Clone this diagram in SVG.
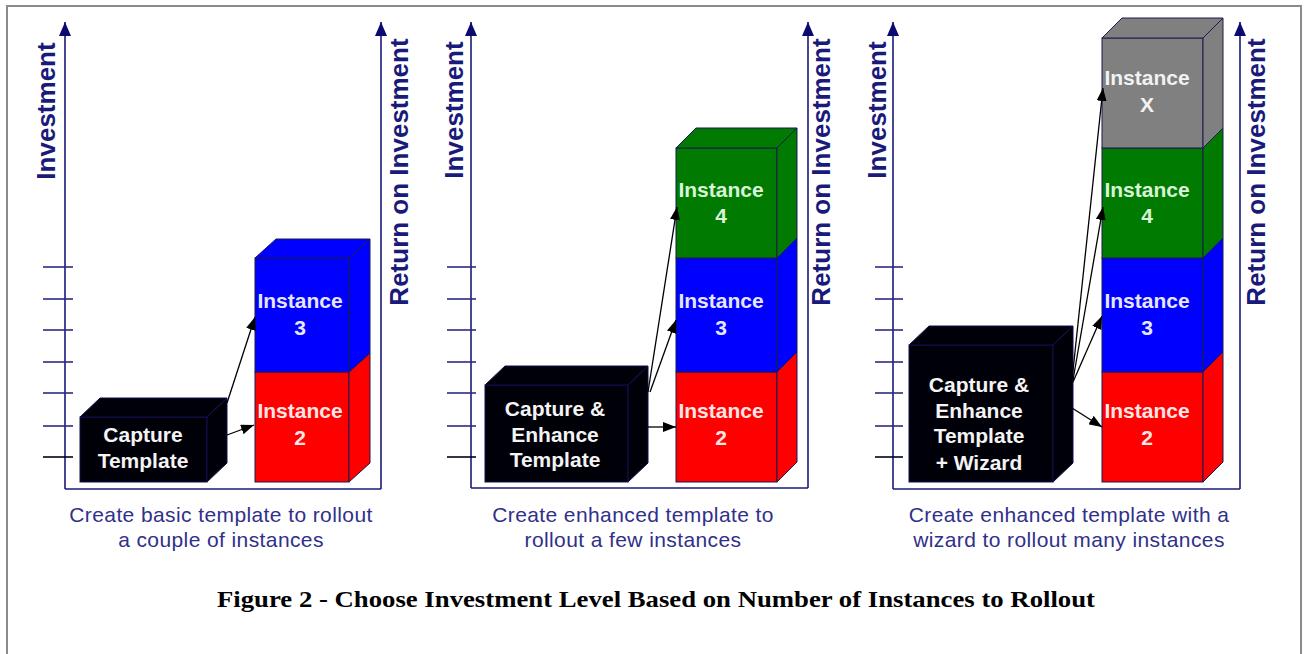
<svg xmlns="http://www.w3.org/2000/svg" width="1304" height="654" viewBox="0 0 1304 654">
<style>
.axis{stroke:#1a1a7a;stroke-width:1.6;fill:none}
.tick{stroke:#2a2a80;stroke-width:1.6}
.tick0{stroke:#000020;stroke-width:1.6}
.alab{font-family:"Liberation Sans",Arial,sans-serif;font-weight:bold;font-size:26px;fill:#1a1a7a}
.sub{font-family:"Liberation Sans",Arial,sans-serif;font-size:21px;fill:#30308a;text-anchor:middle;letter-spacing:0.4px}
.lbl{font-family:"Liberation Sans",Arial,sans-serif;font-weight:bold;font-size:21px;text-anchor:middle}
.edge{stroke:#1a1a50;stroke-width:1}
.red{fill:#ff0000}
.blue{fill:#0000ff}
.green{fill:#007a00}
.gray{fill:#808080}
.blk{fill:#000008;stroke:#101050;stroke-width:1}
.conn{stroke:#000;stroke-width:1.3;fill:none;marker-end:url(#ah)}
.cap{font-family:"Liberation Serif","Times New Roman",serif;font-weight:bold;font-size:23px;fill:#000;text-anchor:middle}
</style>
<defs>
<marker id="ah" viewBox="0 0 13 10" refX="13" refY="5" markerWidth="13" markerHeight="10" orient="auto" markerUnits="userSpaceOnUse"><path d="M0,0 L13,5 L0,10 z" fill="#000"/></marker>
<marker id="axh" viewBox="0 0 12 14" refX="6" refY="0" markerWidth="12" markerHeight="14" orient="0" markerUnits="userSpaceOnUse"><path d="M6,0 L12,14 L0,14 z" fill="#0a0a70"/></marker>
</defs>
<rect x="7" y="6" width="1294" height="700" fill="#fff" stroke="#8a8a8a" stroke-width="2"/>

<!-- Panel 1 axes -->
<g id="axes1">
<path class="axis" d="M65,489 L381,489"/>
<line class="axis" x1="65" y1="489" x2="65" y2="22" marker-end="url(#axh)"/>
<line class="axis" x1="381" y1="489" x2="381" y2="22" marker-end="url(#axh)"/>
<line class="tick" x1="43" y1="267" x2="73" y2="267"/><line class="tick" x1="43" y1="299" x2="73" y2="299"/><line class="tick" x1="43" y1="330" x2="73" y2="330"/><line class="tick" x1="43" y1="362" x2="73" y2="362"/><line class="tick" x1="43" y1="393" x2="73" y2="393"/><line class="tick" x1="43" y1="426" x2="73" y2="426"/><line class="tick0" x1="43" y1="457" x2="73" y2="457"/>
<text class="alab" transform="translate(55,111) rotate(-90)" text-anchor="middle">Investment</text>
<text class="alab" transform="translate(408,172) rotate(-90)" text-anchor="middle">Return on Investment</text>
</g>
<!-- Panel 2 axes -->
<g id="axes2">
<path class="axis" d="M471,488 L808,488"/>
<line class="axis" x1="471" y1="488" x2="471" y2="22" marker-end="url(#axh)"/>
<line class="axis" x1="808" y1="488" x2="808" y2="22" marker-end="url(#axh)"/>
<line class="tick" x1="447" y1="267" x2="476" y2="267"/><line class="tick" x1="447" y1="299" x2="476" y2="299"/><line class="tick" x1="447" y1="330" x2="476" y2="330"/><line class="tick" x1="447" y1="362" x2="476" y2="362"/><line class="tick" x1="447" y1="393" x2="476" y2="393"/><line class="tick" x1="447" y1="426" x2="476" y2="426"/><line class="tick0" x1="447" y1="457" x2="476" y2="457"/>
<text class="alab" transform="translate(463,110) rotate(-90)" text-anchor="middle">Investment</text>
<text class="alab" transform="translate(830,172) rotate(-90)" text-anchor="middle">Return on Investment</text>
</g>
<!-- Panel 3 axes -->
<g id="axes3">
<path class="axis" d="M893,489 L1240,489"/>
<line class="axis" x1="893" y1="489" x2="893" y2="22" marker-end="url(#axh)"/>
<line class="axis" x1="1240" y1="489" x2="1240" y2="22" marker-end="url(#axh)"/>
<line class="tick" x1="875" y1="267" x2="903" y2="267"/><line class="tick" x1="875" y1="299" x2="903" y2="299"/><line class="tick" x1="875" y1="330" x2="903" y2="330"/><line class="tick" x1="875" y1="362" x2="903" y2="362"/><line class="tick" x1="875" y1="393" x2="903" y2="393"/><line class="tick" x1="875" y1="426" x2="903" y2="426"/><line class="tick0" x1="875" y1="457" x2="903" y2="457"/>
<text class="alab" transform="translate(886,110) rotate(-90)" text-anchor="middle">Investment</text>
<text class="alab" transform="translate(1265,172) rotate(-90)" text-anchor="middle">Return on Investment</text>
</g>

<!-- Panel 1 nodes -->
<g id="p1-capture">
<rect class="blk" x="80" y="417" width="127" height="65"/>
<polygon class="blk" points="80,417 100,398 227,398 207,417"/>
<polygon class="blk" points="207,417 227,398 227,463 207,482"/>
<text class="lbl" fill="#f4f4f4" x="143" y="442">Capture</text>
<text class="lbl" fill="#f4f4f4" x="143" y="468">Template</text>
</g>
<g id="p1-inst2">
<rect class="red edge" x="255" y="372" width="94" height="110"/>
<polygon class="red edge" points="349,372 370,353 370,463 349,482"/>
<text class="lbl" fill="#ffe6e6" x="300" y="418">Instance</text>
<text class="lbl" fill="#ffe6e6" x="300" y="445">2</text>
</g>
<g id="p1-inst3">
<rect class="blue edge" x="255" y="258" width="94" height="114"/>
<polygon class="blue edge" points="349,258 370,239 370,353 349,372"/>
<polygon class="blue edge" points="255,258 276,239 370,239 349,258"/>
<text class="lbl" fill="#e6e6ff" x="300" y="308">Instance</text>
<text class="lbl" fill="#e6e6ff" x="300" y="335">3</text>
</g>

<!-- Panel 2 nodes -->
<g id="p2-capture">
<rect class="blk" x="485" y="385" width="143" height="97"/>
<polygon class="blk" points="485,385 505,366 648,366 628,385"/>
<polygon class="blk" points="628,385 648,366 648,463 628,482"/>
<text class="lbl" fill="#f4f4f4" x="555" y="416">Capture &amp;</text>
<text class="lbl" fill="#f4f4f4" x="555" y="442">Enhance</text>
<text class="lbl" fill="#f4f4f4" x="555" y="467">Template</text>
</g>
<g id="p2-inst2">
<rect class="red edge" x="676" y="372" width="101" height="110"/>
<polygon class="red edge" points="777,372 797,352 797,462 777,482"/>
<text class="lbl" fill="#ffe6e6" x="721" y="418">Instance</text>
<text class="lbl" fill="#ffe6e6" x="721" y="445">2</text>
</g>
<g id="p2-inst3">
<rect class="blue edge" x="676" y="258" width="101" height="114"/>
<polygon class="blue edge" points="777,258 797,238 797,352 777,372"/>
<text class="lbl" fill="#e6e6ff" x="721" y="308">Instance</text>
<text class="lbl" fill="#e6e6ff" x="721" y="335">3</text>
</g>
<g id="p2-inst4">
<rect class="green edge" x="676" y="148" width="101" height="110"/>
<polygon class="green edge" points="777,148 797,128 797,238 777,258"/>
<polygon class="green edge" points="676,148 696,128 797,128 777,148"/>
<text class="lbl" fill="#d8f5d8" x="721" y="197">Instance</text>
<text class="lbl" fill="#d8f5d8" x="721" y="223">4</text>
</g>

<!-- Panel 3 nodes -->
<g id="p3-capture">
<rect class="blk" x="909" y="345" width="144" height="137"/>
<polygon class="blk" points="909,345 929,326 1073,326 1053,345"/>
<polygon class="blk" points="1053,345 1073,326 1073,463 1053,482"/>
<text class="lbl" fill="#f4f4f4" x="979" y="392">Capture &amp;</text>
<text class="lbl" fill="#f4f4f4" x="979" y="418">Enhance</text>
<text class="lbl" fill="#f4f4f4" x="979" y="443">Template</text>
<text class="lbl" fill="#f4f4f4" x="979" y="470">+ Wizard</text>
</g>
<g id="p3-inst2">
<rect class="red edge" x="1102" y="372" width="101" height="110"/>
<polygon class="red edge" points="1203,372 1223,352 1223,462 1203,482"/>
<text class="lbl" fill="#ffe6e6" x="1147" y="418">Instance</text>
<text class="lbl" fill="#ffe6e6" x="1147" y="445">2</text>
</g>
<g id="p3-inst3">
<rect class="blue edge" x="1102" y="258" width="101" height="114"/>
<polygon class="blue edge" points="1203,258 1223,238 1223,352 1203,372"/>
<text class="lbl" fill="#e6e6ff" x="1147" y="308">Instance</text>
<text class="lbl" fill="#e6e6ff" x="1147" y="335">3</text>
</g>
<g id="p3-inst4">
<rect class="green edge" x="1102" y="148" width="101" height="110"/>
<polygon class="green edge" points="1203,148 1223,128 1223,238 1203,258"/>
<text class="lbl" fill="#d8f5d8" x="1147" y="197">Instance</text>
<text class="lbl" fill="#d8f5d8" x="1147" y="223">4</text>
</g>
<g id="p3-instX">
<rect class="gray edge" x="1102" y="38" width="101" height="110"/>
<polygon class="gray edge" points="1203,38 1223,18 1223,128 1203,148"/>
<polygon class="gray edge" points="1102,38 1122,18 1223,18 1203,38"/>
<text class="lbl" fill="#f2f2f2" x="1147" y="85">Instance</text>
<text class="lbl" fill="#f2f2f2" x="1147" y="112">X</text>
</g>

<!-- Connectors -->
<g id="connectors">
<line class="conn" x1="227" y1="403" x2="255" y2="317"/>
<line class="conn" x1="227" y1="435" x2="254" y2="425"/>
<line class="conn" x1="648" y1="392" x2="677" y2="207"/>
<line class="conn" x1="650" y1="392" x2="676" y2="320"/>
<line class="conn" x1="648" y1="427" x2="676" y2="427"/>
<line class="conn" x1="1072" y1="380" x2="1103" y2="88"/>
<line class="conn" x1="1073" y1="380" x2="1103" y2="207"/>
<line class="conn" x1="1073" y1="382" x2="1102" y2="316"/>
<line class="conn" x1="1072" y1="408" x2="1102" y2="427"/>
</g>

<!-- Subtitles -->
<g id="sub1">
<text class="sub" x="221" y="522">Create basic template to rollout</text>
<text class="sub" x="221" y="547">a couple of instances</text>
</g>
<g id="sub2">
<text class="sub" x="633" y="522">Create enhanced template to</text>
<text class="sub" x="633" y="547">rollout a few instances</text>
</g>
<g id="sub3">
<text class="sub" x="1069" y="522">Create enhanced template with a</text>
<text class="sub" x="1069" y="547">wizard to rollout many instances</text>
</g>

<text class="cap" x="656" y="607" textLength="878" lengthAdjust="spacingAndGlyphs">Figure 2 - Choose Investment Level Based on Number of Instances to Rollout</text>
</svg>
